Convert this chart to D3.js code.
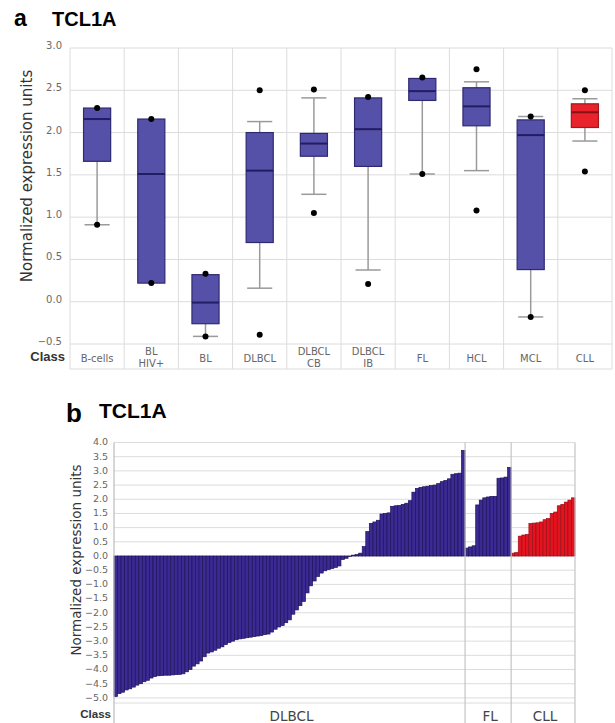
<!DOCTYPE html>
<html>
<head>
<meta charset="utf-8">
<script src="https://cdn.jsdelivr.net/npm/d3@7"></script>
<style>
  body { margin: 0; background: #fff; }
</style>
</head>
<body>
<div id="chart"></div>
<script>
// Size of the figure
const width = 615;
const height = 723;

// ---- Panel a : box plots per class ----
const boxClasses = ["B-cells", "BL\nHIV+", "BL", "DLBCL", "DLBCL\nCB", "DLBCL\nIB", "FL", "HCL", "MCL", "CLL"];
const whiskerLow = [0.91, 0.22, -0.41, 0.16, 1.27, 0.375, 1.51, 1.55, -0.18, 1.90];
const boxQ1 = [1.66, 0.22, -0.26, 0.70, 1.72, 1.60, 2.38, 2.08, 0.38, 2.06];
const boxMedian = [2.16, 1.51, -0.01, 1.55, 1.87, 2.04, 2.49, 2.31, 1.97, 2.24];
const boxQ3 = [2.29, 2.16, 0.32, 2.00, 1.99, 2.41, 2.64, 2.53, 2.15, 2.34];
const whiskerHigh = [2.29, 2.16, 0.32, 2.13, 2.41, 2.41, 2.64, 2.60, 2.19, 2.40];
const boxDots = [[2.29, 0.91], [2.16, 0.22], [0.33, -0.41], [2.50, -0.39], [2.51, 1.05],
                 [2.42, 0.21], [2.65, 1.51], [2.75, 1.08], [2.19, -0.18], [2.50, 1.54]];
const ticksA = [3.0, 2.5, 2.0, 1.5, 1.0, 0.5, 0.0, -0.5];

// ---- Panel b : one bar per sample, sorted inside each class ----
const dlbclValues = [
  -4.95, -4.85, -4.80, -4.72, -4.68, -4.62, -4.55, -4.50, -4.43, -4.38,
  -4.30, -4.25, -4.22, -4.21, -4.20, -4.20, -4.19, -4.18, -4.17, -4.15,
  -4.08, -4.00, -3.88, -3.80, -3.70, -3.55, -3.42, -3.38, -3.32, -3.25,
  -3.20, -3.12, -3.05, -3.00, -2.95, -2.92, -2.90, -2.88, -2.86, -2.84,
  -2.82, -2.80, -2.77, -2.75, -2.68, -2.58, -2.50, -2.45, -2.35, -2.25,
  -2.05, -1.90, -1.75, -1.60, -1.30, -1.05, -0.88, -0.72, -0.60, -0.52,
  -0.48, -0.44, -0.40, -0.35, -0.12, -0.08, -0.02, 0.03, 0.05, 0.10,
  0.33, 0.86, 1.15, 1.20, 1.26, 1.48, 1.50, 1.52, 1.75, 1.77,
  1.78, 1.82, 1.86, 1.95, 2.25, 2.38, 2.42, 2.44, 2.46, 2.48,
  2.50, 2.55, 2.62, 2.66, 2.72, 2.88, 2.90, 2.92, 3.72
];
const flValues = [0.28, 0.32, 0.36, 1.80, 1.97, 2.05, 2.08, 2.10, 2.10, 2.74, 2.75, 2.78, 3.12];
const cllValues = [0.10, 0.12, 0.70, 0.74, 0.76, 1.15, 1.16, 1.17, 1.20, 1.28,
                   1.32, 1.50, 1.55, 1.77, 1.82, 1.90, 1.97, 2.05];
const barGroups = ["DLBCL", "FL", "CLL"];
const ticksB = [4.0, 3.5, 3.0, 2.5, 2.0, 1.5, 1.0, 0.5, 0.0, -0.5, -1.0, -1.5,
                -2.0, -2.5, -3.0, -3.5, -4.0, -4.5, -5.0];

const blue = "#3a2a92", blueDark = "#1f125c";
const red = "#e3141f", redDark = "#9c0f18";
const grid = "#dcdcdc";
const fmt = d3.format(".1f");

const svg = d3.select("#chart").append("svg")
    .attr("width", width)
    .attr("height", height)
    .style("font-family", "'DejaVu Sans', sans-serif");

// ===== Panel a =====
const xA = d3.scaleBand().domain(boxClasses).range([70, 612]);
const yA = d3.scaleLinear().domain([-0.5, 3.0]).range([344, 48]);
const rowBottomA = 369;

svg.append("text").attr("x", 14).attr("y", 26)
    .style("font-family", "'Liberation Sans', Arial, sans-serif")
    .style("font-weight", "bold").style("font-size", "23px").text("a");
svg.append("text").attr("x", 52).attr("y", 26)
    .style("font-family", "'Liberation Sans', Arial, sans-serif")
    .style("font-weight", "bold").style("font-size", "20px").text("TCL1A");

const gA = svg.append("g");

// horizontal gridlines
gA.selectAll("line.hgrid")
    .data(ticksA)
    .enter().append("line")
    .attr("x1", 70).attr("x2", 612)
    .attr("y1", d => yA(d)).attr("y2", d => yA(d))
    .style("stroke", grid).style("stroke-width", 1);
gA.append("line")
    .attr("x1", 70).attr("x2", 612).attr("y1", rowBottomA).attr("y2", rowBottomA)
    .style("stroke", grid);

// vertical separators (through the class row)
gA.selectAll("line.vgrid")
    .data(boxClasses.map(c => xA(c)).concat([xA.range()[1]]))
    .enter().append("line")
    .attr("x1", d => d).attr("x2", d => d)
    .attr("y1", yA(3.0)).attr("y2", rowBottomA)
    .style("stroke", grid).style("stroke-width", 1);

// tick labels
gA.selectAll("text.tick")
    .data(ticksA)
    .enter().append("text")
    .attr("x", 62).attr("y", d => yA(d))
    .attr("dy", "0.1em")
    .style("text-anchor", "end")
    .style("font-size", "10px").style("fill", "#6a6a6a")
    .text(d => fmt(d));

// y label
svg.append("text")
    .attr("transform", "translate(32,176) rotate(-90)")
    .style("text-anchor", "middle")
    .style("font-size", "15px").style("fill", "#333")
    .text("Normalized expression units");

// class row
svg.append("text").attr("x", 65).attr("y", 361)
    .style("text-anchor", "end")
    .style("font-family", "'Liberation Sans', Arial, sans-serif")
    .style("font-weight", "bold").style("font-size", "13px").style("fill", "#333")
    .text("Class");

boxClasses.forEach(c => {
    const lines = c.split("\n");
    const t = gA.append("text")
        .attr("x", xA(c) + xA.bandwidth() / 2)
        .attr("y", lines.length === 1 ? 362 : 355)
        .style("text-anchor", "middle")
        .style("font-size", "10px").style("fill", "#666");
    lines.forEach((l, i) => {
        t.append("tspan").attr("x", xA(c) + xA.bandwidth() / 2)
            .attr("dy", i === 0 ? 0 : "1.2em").text(l);
    });
});

// boxes
const boxW = xA.bandwidth() * 0.5;
boxClasses.forEach((c, i) => {
    const cx = xA(c) + xA.bandwidth() / 2;
    const isCll = c === "CLL";
    const g = gA.append("g");
    // whiskers
    g.append("line").attr("x1", cx).attr("x2", cx)
        .attr("y1", yA(whiskerHigh[i])).attr("y2", yA(boxQ3[i]))
        .style("stroke", "#9a9a9a").style("stroke-width", 1.5);
    g.append("line").attr("x1", cx).attr("x2", cx)
        .attr("y1", yA(boxQ1[i])).attr("y2", yA(whiskerLow[i]))
        .style("stroke", "#9a9a9a").style("stroke-width", 1.5);
    // caps
    [whiskerHigh[i], whiskerLow[i]].forEach((w, k) => {
        const edge = k === 0 ? boxQ3[i] : boxQ1[i];
        if (Math.abs(w - edge) > 0.005) {
            g.append("line").attr("x1", cx - boxW / 2 + 1).attr("x2", cx + boxW / 2 - 1)
                .attr("y1", yA(w)).attr("y2", yA(w))
                .style("stroke", "#9a9a9a").style("stroke-width", 1.5);
        }
    });
    // box
    g.append("rect")
        .attr("x", cx - boxW / 2).attr("width", boxW)
        .attr("y", yA(boxQ3[i])).attr("height", yA(boxQ1[i]) - yA(boxQ3[i]))
        .style("fill", isCll ? "#e8232c" : "#5651a8")
        .style("stroke", isCll ? "#a01a1e" : "#2e2a72").style("stroke-width", 1.2);
    // median
    g.append("line")
        .attr("x1", cx - boxW / 2).attr("x2", cx + boxW / 2)
        .attr("y1", yA(boxMedian[i])).attr("y2", yA(boxMedian[i]))
        .style("stroke", isCll ? "#8a1015" : "#221c63").style("stroke-width", 2);
    // dots
    g.selectAll("circle")
        .data(boxDots[i])
        .enter().append("circle")
        .attr("cx", cx).attr("cy", d => yA(d)).attr("r", 3)
        .style("fill", "#000");
});

// ===== Panel b =====
const bars = [];
[dlbclValues, flValues, cllValues].forEach((vals, gi) => {
    vals.forEach(v => bars.push({ group: barGroups[gi], value: v }));
});

const xB = d3.scaleBand().domain(d3.range(bars.length)).range([114, 575]);
const yB = d3.scaleLinear().domain([-5.18, 4.0]).range([703, 442.5]);
const rowBottomB = 723;

svg.append("text").attr("x", 66).attr("y", 422)
    .style("font-family", "'Liberation Sans', Arial, sans-serif")
    .style("font-weight", "bold").style("font-size", "26px").text("b");
svg.append("text").attr("x", 99).attr("y", 418)
    .style("font-family", "'Liberation Sans', Arial, sans-serif")
    .style("font-weight", "bold").style("font-size", "21px").text("TCL1A");

const gB = svg.append("g");

gB.selectAll("line.hgrid")
    .data(ticksB.concat([-5.18]))
    .enter().append("line")
    .attr("x1", 114).attr("x2", 575)
    .attr("y1", d => yB(d)).attr("y2", d => yB(d))
    .style("stroke", grid).style("stroke-width", 1);

gB.selectAll("text.tick")
    .data(ticksB)
    .enter().append("text")
    .attr("x", 108).attr("y", d => yB(d))
    .attr("dy", "0.3em")
    .style("text-anchor", "end")
    .style("font-size", "9.5px").style("fill", "#666")
    .text(d => fmt(d));

svg.append("text")
    .attr("transform", "translate(81,560) rotate(-90)")
    .style("text-anchor", "middle")
    .style("font-size", "13.5px").style("fill", "#333")
    .text("Normalized expression units");

// bars
gB.selectAll("rect.bar")
    .data(bars)
    .enter().append("rect")
    .attr("x", (d, i) => xB(i))
    .attr("width", xB.bandwidth())
    .attr("y", d => yB(Math.max(0, d.value)))
    .attr("height", d => Math.abs(yB(d.value) - yB(0)))
    .style("fill", d => d.group === "CLL" ? red : blue)
    .style("stroke", d => d.group === "CLL" ? redDark : blueDark)
    .style("stroke-width", 0.7);

// group separators and labels
const groupStarts = barGroups.map(g => bars.findIndex(b => b.group === g));
const groupEnds = barGroups.map(g => bars.length - 1 - bars.slice().reverse().findIndex(b => b.group === g));
const sepX = groupStarts.map(i => xB(i)).concat([xB.range()[1]]);

gB.selectAll("line.vsep")
    .data(sepX)
    .enter().append("line")
    .attr("x1", d => d).attr("x2", d => d)
    .attr("y1", yB(4.0)).attr("y2", rowBottomB)
    .style("stroke", (d, i) => i === 0 ? "#bbb" : "#c4c4c4").style("stroke-width", 1.2);

svg.append("text").attr("x", 111).attr("y", 718)
    .style("text-anchor", "end")
    .style("font-family", "'Liberation Sans', Arial, sans-serif")
    .style("font-weight", "bold").style("font-size", "11.5px").style("fill", "#333")
    .text("Class");

gB.selectAll("text.group")
    .data(barGroups)
    .enter().append("text")
    .attr("x", (d, i) => (xB(groupStarts[i]) + xB(groupEnds[i]) + xB.bandwidth()) / 2 + 2)
    .attr("y", 721)
    .style("text-anchor", "middle")
    .style("font-size", "13.5px").style("fill", "#444")
    .text(d => d);
</script>
</body>
</html>
